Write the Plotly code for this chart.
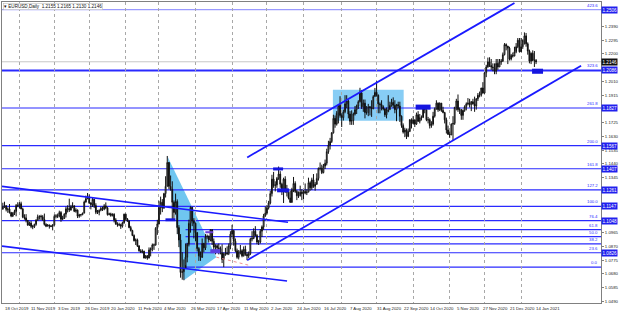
import pandas as pd
import plotly.graph_objects as go

# ---------------- data ----------------
HOLIDAYS = ["2019-12-25", "2020-01-01", "2020-12-25", "2021-01-01"]
FIRST_OPEN = 1.1128

CLOSE = [
    # Oct 2019
    1.1144, 1.1151, 1.1126, 1.1128, 1.1104, 1.1080, 1.1100, 1.1111, 1.1153, 1.1151,
    # Nov 2019
    1.1165, 1.1129, 1.1074, 1.1067, 1.1050, 1.1017, 1.1031, 1.1008, 1.1006, 1.1022, 1.1051,
    1.1074, 1.1079, 1.1075, 1.1056, 1.1022, 1.1010, 1.1018, 1.1010, 1.1008, 1.1017,
    # Dec 2019
    1.1078, 1.1081, 1.1079, 1.1104, 1.1058, 1.1063, 1.1093, 1.1130, 1.1132, 1.1121, 1.1144,
    1.1151, 1.1113, 1.1121, 1.1079, 1.1088, 1.1090, 1.1100, 1.1177, 1.1200, 1.1212,
    # Jan 2020
    1.1171, 1.1159, 1.1196, 1.1152, 1.1106, 1.1105, 1.1120, 1.1133, 1.1127, 1.1150, 1.1137,
    1.1090, 1.1095, 1.1084, 1.1092, 1.1053, 1.1025, 1.1019, 1.1020, 1.1010, 1.1033, 1.1093,
    # Feb 2020
    1.1060, 1.1045, 1.1000, 1.0980, 1.0945, 1.0910, 1.0915, 1.0874, 1.0840, 1.0830,
    1.0837, 1.0790, 1.0805, 1.0790, 1.0845, 1.0855, 1.0880, 1.0880, 1.0995, 1.1025,
    # Mar 2020
    1.1140, 1.1175, 1.1135, 1.1235, 1.1285, 1.1450, 1.1285, 1.1265, 1.1175, 1.1105, 1.1180,
    1.1000, 1.0915, 1.0690, 1.0695, 1.0720, 1.0795, 1.0885, 1.1030, 1.1140, 1.1045, 1.1030,
    # Apr 2020
    1.0965, 1.0855, 1.0805, 1.0795, 1.0890, 1.0860, 1.0935, 1.0940, 1.0915, 1.0985, 1.0905,
    1.0865, 1.0875, 1.0860, 1.0855, 1.0825, 1.0780, 1.0820, 1.0825, 1.0820, 1.0875, 1.0955,
    # May 2020
    1.0980, 1.0905, 1.0840, 1.0795, 1.0830, 1.0840, 1.0805, 1.0850, 1.0815, 1.0805, 1.0820,
    1.0920, 1.0925, 1.0975, 1.0945, 1.0900, 1.0900, 1.0975, 1.1005, 1.1080, 1.1100,
    # Jun 2020
    1.1135, 1.1170, 1.1235, 1.1335, 1.1290, 1.1295, 1.1340, 1.1370, 1.1300, 1.1255, 1.1335,
    1.1265, 1.1245, 1.1205, 1.1175, 1.1260, 1.1305, 1.1250, 1.1220, 1.1220, 1.1245, 1.1235,
    # Jul 2020
    1.1250, 1.1240, 1.1245, 1.1310, 1.1275, 1.1330, 1.1285, 1.1300, 1.1340, 1.1410, 1.1410, 1.1380,
    1.1425, 1.1445, 1.1525, 1.1570, 1.1595, 1.1655, 1.1755, 1.1715, 1.1790, 1.1845, 1.1775,
    # Aug 2020
    1.1760, 1.1800, 1.1855, 1.1875, 1.1785, 1.1735, 1.1740, 1.1785, 1.1815, 1.1840, 1.1870,
    1.1930, 1.1835, 1.1860, 1.1795, 1.1795, 1.1835, 1.1830, 1.1820, 1.1905, 1.1935,
    # Sep 2020
    1.1915, 1.1855, 1.1850, 1.1835, 1.1820, 1.1780, 1.1800, 1.1815, 1.1845, 1.1865, 1.1845,
    1.1815, 1.1850, 1.1840, 1.1770, 1.1705, 1.1660, 1.1675, 1.1630, 1.1665, 1.1745, 1.1720,
    # Oct 2020
    1.1745, 1.1715, 1.1780, 1.1735, 1.1760, 1.1760, 1.1825, 1.1815, 1.1745, 1.1745, 1.1705,
    1.1715, 1.1770, 1.1820, 1.1860, 1.1815, 1.1860, 1.1810, 1.1795, 1.1745, 1.1675, 1.1645,
    # Nov 2020
    1.1640, 1.1715, 1.1720, 1.1830, 1.1875, 1.1815, 1.1815, 1.1775, 1.1810, 1.1835, 1.1855,
    1.1860, 1.1850, 1.1870, 1.1855, 1.1840, 1.1890, 1.1915, 1.1915, 1.1965, 1.1930,
    # Dec 2020
    1.2070, 1.2110, 1.2145, 1.2120, 1.2110, 1.2105, 1.2080, 1.2135, 1.2110, 1.2145, 1.2150,
    1.2195, 1.2265, 1.2255, 1.2240, 1.2165, 1.2190, 1.2185, 1.2215, 1.2250, 1.2295, 1.2215,
    # Jan 2021
    1.2250, 1.2295, 1.2325, 1.2270, 1.2220, 1.2150, 1.2205, 1.2155, 1.2155, 1.2146,
]

HIGH = [
    1.1172, 1.1179, 1.1155, 1.1140, 1.1163, 1.1109, 1.1107, 1.1124, 1.1163, 1.1175,
    1.1176, 1.1179, 1.1138, 1.1092, 1.1093, 1.1052, 1.1042, 1.1046, 1.1019, 1.1027, 1.1058,
    1.1090, 1.1083, 1.1089, 1.1086, 1.1097, 1.1030, 1.1024, 1.1021, 1.1019, 1.1024,
    1.1090, 1.1093, 1.1097, 1.1117, 1.1114, 1.1082, 1.1099, 1.1145, 1.1154, 1.1200, 1.1157,
    1.1175, 1.1152, 1.1134, 1.1125, 1.1095, 1.1094, 1.1103, 1.1187, 1.1221, 1.1239,
    1.1229, 1.1174, 1.1206, 1.1198, 1.1168, 1.1122, 1.1125, 1.1144, 1.1145, 1.1162, 1.1174,
    1.1144, 1.1103, 1.1103, 1.1098, 1.1099, 1.1065, 1.1037, 1.1034, 1.1027, 1.1041, 1.1096,
    1.1096, 1.1066, 1.1050, 1.1012, 1.0985, 1.0953, 1.0925, 1.0924, 1.0877, 1.0851,
    1.0850, 1.0840, 1.0811, 1.0810, 1.0863, 1.0863, 1.0890, 1.0890, 1.1003, 1.1054,
    1.1185, 1.1214, 1.1197, 1.1240, 1.1355, 1.1495, 1.1452, 1.1360, 1.1320, 1.1188, 1.1235,
    1.1195, 1.1017, 1.0955, 1.0830, 1.0780, 1.0890, 1.0895, 1.1055, 1.1147, 1.1115, 1.1065,
    1.1035, 1.0970, 1.0865, 1.0835, 1.0925, 1.0895, 1.0955, 1.0952, 1.0945, 1.0990, 1.0990,
    1.0925, 1.0885, 1.0885, 1.0890, 1.0870, 1.0885, 1.0828, 1.0860, 1.0870, 1.0890, 1.0975,
    1.1019, 1.0980, 1.0925, 1.0855, 1.0845, 1.0880, 1.0850, 1.0870, 1.0875, 1.0830, 1.0835,
    1.0930, 1.0975, 1.0995, 1.1010, 1.0955, 1.0915, 1.0990, 1.1015, 1.1095, 1.1145,
    1.1155, 1.1185, 1.1255, 1.1365, 1.1385, 1.1320, 1.1350, 1.1422, 1.1390, 1.1310, 1.1345,
    1.1355, 1.1295, 1.1260, 1.1255, 1.1275, 1.1350, 1.1320, 1.1260, 1.1250, 1.1290, 1.1265,
    1.1260, 1.1305, 1.1265, 1.1345, 1.1320, 1.1345, 1.1370, 1.1315, 1.1375, 1.1415, 1.1450, 1.1435,
    1.1440, 1.1470, 1.1545, 1.1600, 1.1620, 1.1660, 1.1780, 1.1775, 1.1805, 1.1850, 1.1908,
    1.1790, 1.1815, 1.1915, 1.1915, 1.1885, 1.1805, 1.1810, 1.1795, 1.1840, 1.1850, 1.1880,
    1.1966, 1.1950, 1.1885, 1.1885, 1.1840, 1.1855, 1.1840, 1.1880, 1.1915, 1.1965,
    1.2011, 1.1920, 1.1865, 1.1880, 1.1845, 1.1825, 1.1830, 1.1915, 1.1870, 1.1890, 1.1900,
    1.1880, 1.1855, 1.1870, 1.1870, 1.1775, 1.1720, 1.1690, 1.1685, 1.1685, 1.1750, 1.1755,
    1.1770, 1.1745, 1.1795, 1.1805, 1.1785, 1.1775, 1.1830, 1.1830, 1.1815, 1.1765, 1.1755,
    1.1735, 1.1800, 1.1830, 1.1880, 1.1865, 1.1865, 1.1860, 1.1835, 1.1800, 1.1760, 1.1705,
    1.1665, 1.1720, 1.1770, 1.1835, 1.1890, 1.1920, 1.1830, 1.1820, 1.1815, 1.1845, 1.1865,
    1.1895, 1.1890, 1.1875, 1.1890, 1.1905, 1.1895, 1.1930, 1.1940, 1.1965, 1.2005,
    1.2075, 1.2125, 1.2175, 1.2177, 1.2165, 1.2135, 1.2135, 1.2165, 1.2165, 1.2165, 1.2165,
    1.2210, 1.2275, 1.2273, 1.2255, 1.2250, 1.2200, 1.2210, 1.2250, 1.2275, 1.2310, 1.2310,
    1.2310, 1.2300, 1.2349, 1.2345, 1.2280, 1.2230, 1.2210, 1.2225, 1.2220, 1.2165,
]

LOW = [
    1.1124, 1.1136, 1.1112, 1.1102, 1.1097, 1.1072, 1.1073, 1.1087, 1.1078, 1.1141,
    1.1133, 1.1127, 1.1065, 1.1055, 1.1036, 1.1014, 1.1011, 1.0996, 1.0989, 1.0997, 1.1013,
    1.1048, 1.1055, 1.1052, 1.1047, 1.1014, 1.1003, 1.1008, 1.0993, 1.1003, 1.0981,
    1.1015, 1.1064, 1.1066, 1.1071, 1.1040, 1.1052, 1.1060, 1.1070, 1.1105, 1.1108, 1.1118,
    1.1134, 1.1107, 1.1103, 1.1066, 1.1068, 1.1076, 1.1085, 1.1099, 1.1172, 1.1196,
    1.1163, 1.1126, 1.1143, 1.1135, 1.1093, 1.1094, 1.1085, 1.1113, 1.1115, 1.1120, 1.1127,
    1.1083, 1.1085, 1.1075, 1.1077, 1.1036, 1.1019, 1.1006, 1.1010, 1.0991, 1.1000, 1.1027,
    1.1047, 1.1040, 1.0996, 1.0973, 1.0941, 1.0904, 1.0880, 1.0866, 1.0834, 1.0826,
    1.0823, 1.0787, 1.0786, 1.0778, 1.0787, 1.0801, 1.0836, 1.0846, 1.0875, 1.0950,
    1.1023, 1.1090, 1.1107, 1.1130, 1.1208, 1.1285, 1.1265, 1.1255, 1.1055, 1.1054, 1.1090,
    1.0955, 1.0865, 1.0654, 1.0640, 1.0636, 1.0740, 1.0760, 1.0870, 1.0965, 1.1010, 1.0925,
    1.0905, 1.0835, 1.0770, 1.0770, 1.0790, 1.0830, 1.0845, 1.0920, 1.0898, 1.0905, 1.0880,
    1.0845, 1.0815, 1.0845, 1.0815, 1.0815, 1.0755, 1.0727, 1.0805, 1.0810, 1.0810, 1.0850,
    1.0935, 1.0875, 1.0830, 1.0785, 1.0780, 1.0815, 1.0795, 1.0800, 1.0805, 1.0775, 1.0790,
    1.0810, 1.0905, 1.0920, 1.0940, 1.0885, 1.0880, 1.0890, 1.0935, 1.0985, 1.1075,
    1.1090, 1.1125, 1.1160, 1.1215, 1.1275, 1.1250, 1.1275, 1.1330, 1.1275, 1.1225, 1.1170,
    1.1240, 1.1215, 1.1195, 1.1170, 1.1170, 1.1245, 1.1240, 1.1190, 1.1205, 1.1215, 1.1190,
    1.1195, 1.1230, 1.1225, 1.1245, 1.1255, 1.1260, 1.1275, 1.1255, 1.1295, 1.1325, 1.1395, 1.1370,
    1.1375, 1.1405, 1.1430, 1.1510, 1.1540, 1.1585, 1.1650, 1.1690, 1.1705, 1.1720, 1.1760,
    1.1695, 1.1740, 1.1790, 1.1825, 1.1755, 1.1710, 1.1710, 1.1710, 1.1775, 1.1785, 1.1820,
    1.1865, 1.1820, 1.1800, 1.1755, 1.1780, 1.1770, 1.1775, 1.1765, 1.1820, 1.1905,
    1.1905, 1.1790, 1.1790, 1.1810, 1.1810, 1.1765, 1.1755, 1.1800, 1.1815, 1.1835, 1.1825,
    1.1790, 1.1735, 1.1825, 1.1730, 1.1690, 1.1650, 1.1625, 1.1612, 1.1625, 1.1660, 1.1685,
    1.1715, 1.1695, 1.1710, 1.1730, 1.1720, 1.1740, 1.1760, 1.1790, 1.1735, 1.1720, 1.1685,
    1.1690, 1.1705, 1.1760, 1.1815, 1.1800, 1.1805, 1.1800, 1.1790, 1.1720, 1.1650, 1.1640,
    1.1620, 1.1640, 1.1603, 1.1710, 1.1810, 1.1800, 1.1785, 1.1745, 1.1745, 1.1800, 1.1810,
    1.1845, 1.1830, 1.1805, 1.1850, 1.1800, 1.1815, 1.1875, 1.1900, 1.1905, 1.1925,
    1.1925, 1.2040, 1.2105, 1.2110, 1.2090, 1.2080, 1.2060, 1.2060, 1.2090, 1.2110, 1.2125,
    1.2145, 1.2190, 1.2225, 1.2130, 1.2155, 1.2155, 1.2175, 1.2185, 1.2205, 1.2240, 1.2210,
    1.2225, 1.2235, 1.2265, 1.2250, 1.2195, 1.2135, 1.2130, 1.2150, 1.2110, 1.2130,
]

DATE_LABELS = [
    "18 Oct 2019", "11 Nov 2019", "3 Dec 2019", "26 Dec 2019", "20 Jan 2020", "11 Feb 2020",
    "4 Mar 2020", "26 Mar 2020", "17 Apr 2020", "11 May 2020", "2 Jun 2020", "24 Jun 2020",
    "16 Jul 2020", "7 Aug 2020", "31 Aug 2020", "22 Sep 2020", "14 Oct 2020", "5 Nov 2020",
    "27 Nov 2020", "21 Dec 2020", "14 Jan 2021",
]
DATE_LABEL_STEP = 16

Y_TICKS = [1.0490, 1.0585, 1.0680, 1.0775, 1.0870, 1.0965, 1.1345, 1.1440, 1.1535,
           1.1630, 1.1725, 1.1915, 1.2010, 1.2200, 1.2295, 1.2390]

FIB_LOW, FIB_HIGH = 1.0727, 1.1147
FIB_LEVELS = [0.0, 23.6, 38.2, 50.0, 61.8, 76.4, 100.0, 127.2, 161.8, 200.0, 261.8, 323.6, 423.6]
FULL_LEVELS = [23.6, 76.4, 100.0, 127.2, 161.8, 200.0, 261.8, 323.6, 423.6]
FIB_START_BAR = 110

# trend lines (bar index, price)
DESC_UPPER = ([-0.5, 171.7], [1.1285, 1.1037])
DESC_LOWER = ([-0.5, 171.1], [1.0872, 1.0631])
ASC_UPPER = ([147.1, 308.0], [1.1485, 1.2552])
ASC_LOWER = ([147.1, 348.1], [1.0775, 1.2118])
TRIANGLE = ([99, 109, 128.5], [1.1495, 1.0636, 1.0796])
PINK_DOT = ([128.5, 147.7], [1.0796, 1.0741])
RANGE_BOX = ([198.7, 241.3], [1.1739, 1.1953])
SMALL_BOX_X0 = [97.9, 121.9, 124.9, 162.7, 165.1, 248.5, 318.6]
SMALL_BOX_X1 = [103.9, 126.7, 130.9, 168.7, 172.3, 257.5, 325.2]
SMALL_BOX_Y0 = [1.1044, 1.0961, 1.0823, 1.1395, 1.1244, 1.1815, 1.2063]
SMALL_BOX_Y1 = [1.1064, 1.0975, 1.0851, 1.1416, 1.1271, 1.1850, 1.2098]
SMALL_BOX_COLOR = ["#1515e0", "#6a3fd8", "#5a3fe0", "#1515e0", "#1515e0", "#1515e0", "#1515e0"]

# ---------------- build ----------------
dates = pd.bdate_range("2019-10-18", "2021-01-15")
dates = dates[~dates.isin(pd.to_datetime(HOLIDAYS))]
n = len(CLOSE)
assert len(dates) == n == len(HIGH) == len(LOW), (len(dates), n, len(HIGH), len(LOW))
idx = list(range(n))
OPEN = [FIRST_OPEN] + CLOSE[:-1]

month_starts = [i for i in range(1, n) if dates[i].month != dates[i - 1].month]

PX_PER_BAR = 1.6667
PLOT_W = 601
X_MIN = -0.5
X_MAX = X_MIN + PLOT_W / PX_PER_BAR
Y_MIN, Y_MAX = 1.0479, 1.2559

FONT = "Liberation Sans"
BLUE = "#2a2aff"

fig = go.Figure()
fig.add_trace(go.Candlestick(
    x=idx, open=OPEN, high=HIGH, low=LOW, close=CLOSE,
    increasing=dict(line=dict(color="#111111", width=1), fillcolor="white"),
    decreasing=dict(line=dict(color="#111111", width=1), fillcolor="#111111"),
    whiskerwidth=0, hoverinfo="skip", showlegend=False,
))

shapes = []
# triangle
tx, ty = TRIANGLE
path = "M {},{} L {},{} L {},{} Z".format(tx[0], ty[0], tx[1], ty[1], tx[2], ty[2])
shapes.append(dict(type="path", path=path, xref="x", yref="y", fillcolor="#6fc6f0",
                   line=dict(width=0), layer="below"))
# range box
shapes.append(dict(type="rect", xref="x", yref="y", x0=RANGE_BOX[0][0], x1=RANGE_BOX[0][1],
                   y0=RANGE_BOX[1][0], y1=RANGE_BOX[1][1], fillcolor="#87cdf5",
                   line=dict(width=0), layer="below"))
# fib levels
for lvl in FIB_LEVELS:
    p = FIB_LOW + (FIB_HIGH - FIB_LOW) * lvl / 100.0
    full = lvl in FULL_LEVELS
    color = "#9a9aff" if lvl == 423.6 else BLUE
    width = 2 if lvl == 323.6 else 1.2
    shapes.append(dict(type="line", xref="x", yref="y",
                       x0=X_MIN if full else FIB_START_BAR, x1=X_MAX, y0=p, y1=p,
                       line=dict(color=color, width=width), layer="below"))
# bid line
last = CLOSE[-1]
shapes.append(dict(type="line", xref="x", yref="y", x0=X_MIN, x1=X_MAX, y0=last, y1=last,
                   line=dict(color="#c8c8c8", width=1), layer="below"))
# small boxes
for x0, x1, y0, y1, c in zip(SMALL_BOX_X0, SMALL_BOX_X1, SMALL_BOX_Y0, SMALL_BOX_Y1, SMALL_BOX_COLOR):
    shapes.append(dict(type="rect", xref="x", yref="y", x0=x0, x1=x1, y0=y0, y1=y1,
                       fillcolor=c, line=dict(width=0), layer="above"))
# trend lines
for (lx, ly), w in [(DESC_UPPER, 1.6), (DESC_LOWER, 1.6), (ASC_UPPER, 1.8), (ASC_LOWER, 1.8)]:
    shapes.append(dict(type="line", xref="x", yref="y", x0=lx[0], x1=lx[1], y0=ly[0], y1=ly[1],
                       line=dict(color="#1a1aff", width=w), layer="above"))
shapes.append(dict(type="line", xref="x", yref="y", x0=PINK_DOT[0][0], x1=PINK_DOT[0][1],
                   y0=PINK_DOT[1][0], y1=PINK_DOT[1][1],
                   line=dict(color="#f09090", width=1, dash="dot"), layer="above"))

annotations = []
# date labels
for k, lab in enumerate(DATE_LABELS):
    annotations.append(dict(x=k * DATE_LABEL_STEP, y=0, xref="x", yref="paper", text=lab,
                            showarrow=False, xanchor="left", yanchor="top", yshift=-1,
                            font=dict(family=FONT, size=4.3, color="#222")))
# fib labels
for lvl in FIB_LEVELS:
    p = FIB_LOW + (FIB_HIGH - FIB_LOW) * lvl / 100.0
    annotations.append(dict(x=1, y=p, xref="paper", yref="y", text=f"{lvl:.1f}",
                            showarrow=False, xanchor="right", yanchor="bottom", xshift=-1,
                            font=dict(family=FONT, size=4.3, color=BLUE)))
# price tags
for lvl in FULL_LEVELS:
    p = FIB_LOW + (FIB_HIGH - FIB_LOW) * lvl / 100.0
    annotations.append(dict(x=1, y=p, xref="paper", yref="y", text=f"{p:.4f}",
                            showarrow=False, xanchor="left", yanchor="middle", xshift=0,
                            bgcolor="#2020ee", borderpad=0.5,
                            font=dict(family=FONT, size=4.6, color="white")))
annotations.append(dict(x=1, y=last, xref="paper", yref="y", text=f"{last:.4f}",
                        showarrow=False, xanchor="left", yanchor="middle",
                        bgcolor="#111111", borderpad=0.5,
                        font=dict(family=FONT, size=4.6, color="white")))
# title
title_txt = "\u25be EURUSD,Daily  {:.4f} {:.4f} {:.4f} {:.4f}".format(OPEN[-1], HIGH[-1], LOW[-1], CLOSE[-1])
annotations.append(dict(x=0, y=1, xref="paper", yref="paper", text=title_txt, showarrow=False,
                        xanchor="left", yanchor="top", xshift=1, yshift=-1,
                        bgcolor="white", bordercolor="#b0b0b0", borderwidth=0.5, borderpad=0.5,
                        font=dict(family=FONT, size=4.6, color="#111")))

fig.update_layout(
    width=620, height=313,
    margin=dict(l=1, r=18, t=1, b=10),
    paper_bgcolor="white", plot_bgcolor="white",
    showlegend=False,
    shapes=shapes, annotations=annotations,
    xaxis=dict(range=[X_MIN, X_MAX], rangeslider=dict(visible=False),
               tickvals=month_starts, ticktext=["" for _ in month_starts],
               showgrid=True, gridcolor="#a8a8a8", griddash="dot", gridwidth=1,
               showline=True, linecolor="#808080", linewidth=1, mirror=True,
               ticks="", zeroline=False, fixedrange=True),
    yaxis=dict(range=[Y_MIN, Y_MAX], side="right", tickvals=Y_TICKS,
               ticktext=[f"{v:.4f}" for v in Y_TICKS],
               showgrid=False, showline=True, linecolor="#808080", linewidth=1, mirror=True,
               ticks="outside", ticklen=2, tickcolor="#808080",
               tickfont=dict(family=FONT, size=4.3, color="#222"), zeroline=False,
               fixedrange=True),
)

fig.write_html("out.html")
